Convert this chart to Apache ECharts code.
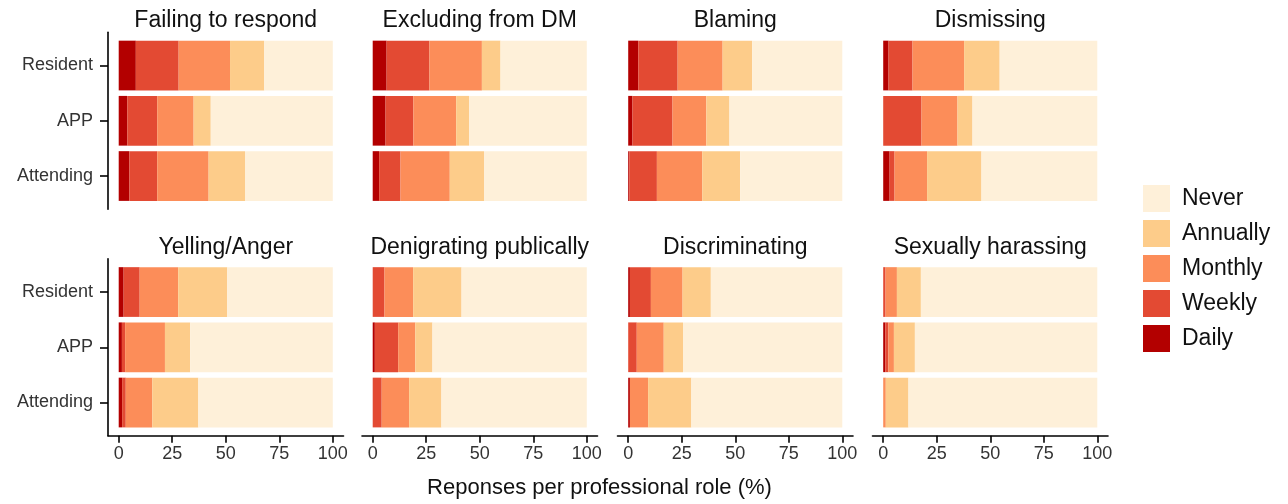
<!DOCTYPE html>
<html><head><meta charset="utf-8">
<script src="https://cdn.jsdelivr.net/npm/echarts@6/dist/echarts.min.js"></script>
<style>html,body{margin:0;padding:0;background:#fff}#c{width:1288px;height:504px}</style>
</head><body><div id="c"></div>
<script>
// ---- data ----
const roles = ['Resident', 'APP', 'Attending'];
const behaviours = ['Failing to respond', 'Excluding from DM', 'Blaming', 'Dismissing',
  'Yelling/Anger', 'Denigrating publically', 'Discriminating', 'Sexually harassing'];
const levels = ['Daily', 'Weekly', 'Monthly', 'Annually', 'Never'];
const legendOrder = ['Never', 'Annually', 'Monthly', 'Weekly', 'Daily'];
const xTicks = [0, 25, 50, 75, 100];
const axisTitle = 'Reponses per professional role (%)';
// each entry: [Resident, APP, Attending] for one behaviour
const daily    = [[8, 4, 5], [6.5, 6, 3], [4.7, 2, 0.5], [2.5, 0, 3], [2.3, 1.5, 1.6], [0, 1, 0], [0.8, 0, 0.8], [0, 1, 0]];
const weekly   = [[20, 14, 13], [20, 13, 10], [18.4, 18.7, 12.9], [11.2, 17.9, 2.3], [7.5, 1.5, 1.7], [5.5, 10.9, 4.2], [9.8, 4, 0], [1.1, 1.4, 0]];
const monthly  = [[24, 17, 24], [24.5, 20, 23], [21, 15.8, 21.2], [24.1, 16.8, 15.2], [18, 18.6, 12.4], [13.4, 8, 12.8], [14.8, 12.6, 8.5], [5.3, 2.6, 1.2]];
const annually = [[16, 8, 17], [8.7, 6, 16], [13.8, 10.8, 17.7], [16.6, 7, 25.4], [22.9, 11.8, 21.5], [22.6, 8, 15.1], [13.2, 9, 20.2], [11.2, 9.8, 10.6]];
const never    = [[32, 57, 41], [40.3, 55, 48], [42.1, 52.7, 47.7], [45.6, 58.3, 54.1], [49.3, 66.6, 62.8], [58.5, 72.1, 67.9], [61.4, 74.4, 70.5], [82.4, 85.2, 88.2]];

// ---- styling / layout ----
const levelData = { Daily: daily, Weekly: weekly, Monthly: monthly, Annually: annually, Never: never };
const colors = { Daily: '#b30000', Weekly: '#e34a33', Monthly: '#fc8d59', Annually: '#fdcc8a', Never: '#fef0d9' };
const FONT = "'Liberation Sans', Arial, Helvetica, sans-serif";
const colLeft = [108, 362, 617.5, 872.5];
const gridW = 235.5;
const rowTop = [37.9, 264.4];
const bandH = 165.75;
const lineTop = [32.35, 258.85];
const lineH = 176.8;
const titleTop = [9, 236];
const axisCol = '#000';

const grids = [], xAxes = [], yAxes = [], series = [], titles = [];
for (let p = 0; p < 8; p++) {
  const r = Math.floor(p / 4), c = p % 4;
  grids.push({ left: colLeft[c], top: rowTop[r], width: gridW, height: bandH });
  xAxes.push({
    gridIndex: p, type: 'value', min: -5, max: 105, show: r === 1, offset: 5.5, position: 'bottom',
    axisLine: { show: true, onZero: false, lineStyle: { color: axisCol, width: 1.6 } },
    axisTick: { show: true, inside: false, customValues: xTicks, length: 7, lineStyle: { color: axisCol, width: 1.6 } },
    axisLabel: { customValues: xTicks, margin: 9, fontSize: 18, color: '#333', fontFamily: FONT },
    splitLine: { show: false }
  });
  yAxes.push({
    gridIndex: p, type: 'category', data: roles, inverse: true, show: c === 0, position: 'left',
    axisLine: { show: false, onZero: false },
    axisTick: { show: true, inside: false, alignWithLabel: true, length: 8, lineStyle: { color: axisCol, width: 1.6 } },
    axisLabel: { fontSize: 18, margin: 15, color: '#333', fontFamily: FONT },
    splitLine: { show: false }
  });
  levels.forEach(lv => {
    series.push({
      type: 'bar', name: lv, stack: 's' + p, xAxisIndex: p, yAxisIndex: p,
      barWidth: '90%', data: levelData[lv][p],
      itemStyle: { color: colors[lv] }, emphasis: { disabled: true }, silent: true
    });
  });
  titles.push({
    text: behaviours[p], left: colLeft[c] + gridW / 2, top: titleTop[r], textAlign: 'center', padding: 0,
    textStyle: { fontSize: 23, fontWeight: 'normal', color: '#111', fontFamily: FONT }
  });
}
// full-height y axis lines for the left column (ggplot-style expansion)
for (let r = 0; r < 2; r++) {
  const gi = grids.length;
  grids.push({ left: colLeft[0], top: lineTop[r], width: gridW, height: lineH });
  xAxes.push({ gridIndex: gi, type: 'value', min: 0, max: 1, show: false });
  yAxes.push({
    gridIndex: gi, type: 'value', min: 0, max: 1, position: 'left',
    axisLine: { show: true, onZero: false, lineStyle: { color: axisCol, width: 1.6 } },
    axisTick: { show: false }, axisLabel: { show: false }, splitLine: { show: false }
  });
}
titles.push({
  text: axisTitle, left: 599.5, top: 477, textAlign: 'center', padding: 0,
  textStyle: { fontSize: 22, fontWeight: 'normal', color: '#111', fontFamily: FONT }
});

const chart = echarts.init(document.getElementById('c'), null, { renderer: 'canvas' });
chart.setOption({
  animation: false,
  backgroundColor: '#fff',
  title: titles,
  legend: {
    orient: 'vertical', left: 1138, top: 180, itemWidth: 27, itemHeight: 27, itemGap: 8,
    icon: 'rect', data: legendOrder, selectedMode: false,
    textStyle: { fontSize: 23, color: '#111', fontFamily: FONT, padding: [0, 0, 0, 7] }
  },
  grid: grids, xAxis: xAxes, yAxis: yAxes, series: series
});
</script></body></html>
